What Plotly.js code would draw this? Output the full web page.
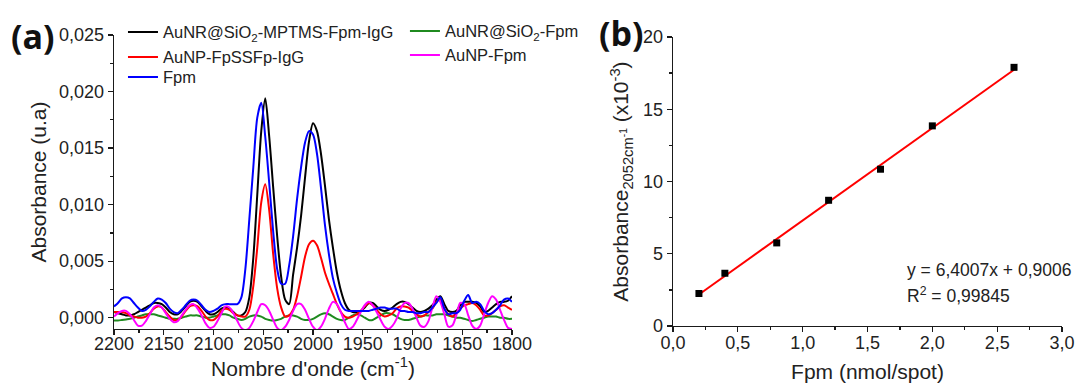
<!DOCTYPE html>
<html>
<head>
<meta charset="utf-8">
<script src="https://cdn.plot.ly/plotly-3.0.1.min.js"></script>
<style>html,body{margin:0;padding:0;background:#fff;}#chart{width:1075px;height:383px;}</style>
</head>
<body>
<div id="chart"></div>
<script>
// ---------- Panel (a) : FTIR spectra ----------
const wavenumber = [
2200,2196,2192,2188,2184,2180,2176,2172,2168,2164,
2160,2156,2152,2148,2144,2140,2136,2132,2128,2124,
2120,2116,2112,2108,2104,2100,2096,2092,2088,2084,
2080,2076,2072,2068,2064,2060,2056,2052,2048,2044,
2040,2036,2032,2028,2024,2020,2016,2012,2008,2004,
2000,1996,1992,1988,1984,1980,1976,1972,1968,1964,
1960,1956,1952,1948,1944,1940,1936,1932,1928,1924,
1920,1916,1912,1908,1904,1900,1896,1892,1888,1884,
1880,1876,1872,1868,1864,1860,1856,1852,1848,1844,
1840,1836,1832,1828,1824,1820,1816,1812,1808,1804,
1800];

const auNR_MPTMS_IgG = [
0.0005,0.0004,0.0003,0.0002,0.0002,0.0003,0.0005,0.0007,0.0009,0.0011,
0.0013,0.0013,0.0012,0.0009,0.0005,0.0003,0.0003,0.0006,0.0010,0.0014,
0.0015,0.0014,0.0010,0.0006,0.0003,0.0003,0.0005,0.0008,0.0009,0.0008,
0.0005,0.0002,0.0002,0.0005,0.0018,0.0053,0.0109,0.0165,0.0194,0.0160,
0.0115,0.0072,0.0036,0.0016,0.0012,0.0038,0.0062,0.0090,0.0124,0.0156,
0.0172,0.0165,0.0145,0.0117,0.0087,0.0062,0.0040,0.0024,0.0013,0.0007,
0.0005,0.0005,0.0006,0.0009,0.0013,0.0013,0.0010,0.0007,0.0006,0.0007,
0.0009,0.0012,0.0014,0.0014,0.0012,0.0009,0.0006,0.0005,0.0006,0.0008,
0.0011,0.0016,0.0019,0.0012,0.0006,0.0005,0.0006,0.0011,0.0014,0.0014,
0.0014,0.0013,0.0010,0.0005,0.0006,0.0009,0.0012,0.0014,0.0014,0.0015,
0.0019];

const auNR_Fpm = [
-0.00025,-0.00025,-0.0002,-0.00015,-0.0001,0.0,0.0001,0.0002,0.0003,0.0003,
0.0003,0.0002,0.0001,0.0,-0.0001,-0.0001,-0.0001,0.0,0.0001,0.0002,
0.0002,0.0002,0.0001,0.0,0.0,0.0001,0.0002,0.0003,0.0003,0.0002,
0.0,-0.0001,-0.0002,-0.0001,0.0001,0.0002,0.0002,0.0001,-0.0001,-0.0002,
-0.00025,-0.0002,-0.0001,0.0001,0.0002,0.0002,0.0001,-0.0001,-0.0002,-0.0002,
-0.0001,0.0001,0.0003,0.0004,0.0003,0.0001,-0.0001,-0.0002,-0.0002,0.0,
0.0002,0.0003,0.0002,0.0,-0.0002,-0.0002,0.0,0.0002,0.0004,0.0004,
0.0003,0.0001,-0.0001,-0.0002,-0.0002,-0.0001,0.0,0.0001,0.0002,0.0002,
0.0002,0.0003,0.0003,0.0003,0.0002,0.0001,0.0,0.0,-0.0001,-0.0002,
-0.0003,-0.0002,-0.0001,0.0,0.0001,0.0001,0.0001,0.0,0.0,-0.0001,
-0.0001];

const auNP_FpSSFp_IgG = [
0.0005,0.0005,0.0005,0.0004,0.0002,0.0001,0.0000,0.0000,0.0001,0.0004,
0.0008,0.0010,0.0009,0.0005,0.0001,-0.0002,-0.0002,0.0001,0.0006,0.0010,
0.0011,0.0010,0.0006,0.0001,-0.0002,-0.0002,0.0001,0.0006,0.0008,0.0007,
0.0004,0.0002,0.0001,0.0001,0.0007,0.0028,0.0062,0.0102,0.0118,0.0095,
0.0056,0.0026,0.0009,0.0001,0.0002,0.0007,0.0019,0.0036,0.0054,0.0065,
0.0068,0.0064,0.0053,0.0040,0.0030,0.0021,0.0012,0.0005,0.0001,0.0000,
0.0001,0.0003,0.0006,0.0010,0.0013,0.0011,0.0007,0.0003,0.0001,0.0002,
0.0004,0.0008,0.0010,0.0010,0.0009,0.0006,0.0003,0.0001,0.0002,0.0005,
0.0008,0.0014,0.0016,0.0008,0.0003,0.0001,0.0004,0.0008,0.0011,0.0012,
0.0013,0.0011,0.0007,0.0002,0.0002,0.0004,0.0007,0.0010,0.0011,0.0009,
0.0007];

const auNP_Fpm = [
0.0001,0.0004,0.0006,0.0006,0.0003,-0.0002,-0.0007,-0.0007,-0.0003,0.0003,
0.0009,0.0011,0.0009,0.0004,-0.0001,-0.0004,-0.0003,0.0002,0.0007,0.0011,
0.0012,0.0008,0.0002,-0.0005,-0.0009,-0.0008,-0.0003,0.0004,0.0010,0.0009,
0.0004,-0.0003,-0.0009,-0.0011,-0.0009,-0.0003,0.0005,0.0012,0.0011,0.0006,
-0.0002,-0.0009,-0.0011,-0.0008,-0.0002,0.0006,0.0012,0.0012,0.0007,-0.0001,
-0.0008,-0.0011,-0.0008,-0.0001,0.0008,0.0014,0.0012,0.0005,-0.0004,-0.0010,
-0.0008,-0.0002,0.0005,0.0011,0.0014,0.0011,0.0005,-0.0002,-0.0008,-0.0010,
-0.0007,-0.0001,0.0008,0.0013,0.0013,0.0008,0.0000,-0.0007,-0.0008,-0.0003,
0.0009,0.0019,0.0014,0.0003,-0.0008,-0.0007,0.0002,0.0013,0.0012,0.0002,
-0.0007,-0.0010,-0.0007,0.0003,0.0013,0.0019,0.0016,0.0007,-0.0002,-0.0009,
-0.0010];

const fpmSpectrum = [
0.0010,0.0013,0.0017,0.0018,0.0017,0.0013,0.0009,0.0006,0.0007,0.0010,
0.0014,0.0017,0.0016,0.0013,0.0008,0.0005,0.0004,0.0007,0.0011,0.0015,
0.0016,0.0015,0.0011,0.0007,0.0005,0.0006,0.0008,0.0011,0.0012,0.0012,
0.0012,0.0012,0.0018,0.0043,0.0087,0.0133,0.0177,0.0190,0.0160,0.0119,
0.0076,0.0043,0.0030,0.0030,0.0046,0.0072,0.0105,0.0133,0.0155,0.0165,
0.0162,0.0145,0.0115,0.0082,0.0056,0.0035,0.0022,0.0012,0.0007,0.0006,
0.0006,0.0006,0.0006,0.0006,0.0006,0.0007,0.0008,0.0009,0.0009,0.0008,
0.0008,0.0008,0.0006,0.0006,0.0005,0.0005,0.0004,0.0004,0.0005,0.0005,
0.0009,0.0013,0.0018,0.0008,0.0003,0.0004,0.0004,0.0007,0.0015,0.0020,
0.0013,0.0014,0.0012,0.0006,0.0003,0.0004,0.0007,0.0011,0.0016,0.0017,
0.0014];

const seriesNames = [
  'AuNR@SiO<sub>2</sub>-MPTMS-Fpm-IgG',
  'AuNR@SiO<sub>2</sub>-Fpm',
  'AuNP-FpSSFp-IgG',
  'AuNP-Fpm',
  'Fpm'
];

// ---------- Panel (b) : calibration ----------
const fpmAmount = [0.2, 0.4, 0.8, 1.2, 1.6, 2.0, 2.63];
const absorbance2052 = [2.25, 3.65, 5.75, 8.7, 10.85, 13.85, 17.9];
const fitSlope = 6.4007;
const fitIntercept = 0.9006;
const fitR2 = '0,99845';

const AX = '#1a1a1a';
const FAM = 'Liberation Sans, Arial, sans-serif';
const tickFont = {family: FAM, size: 18, color: '#222'};
const titleFont = {family: FAM, size: 21, color: '#222'};

function spec(y, name, color, legend) {
  return {x: wavenumber, y: y, name: name, type: 'scatter', mode: 'lines',
    line: {color: color, width: 2, shape: 'spline', smoothing: 0.8},
    xaxis: 'x', yaxis: 'y', legend: legend};
}

const fitX = [Math.min(...fpmAmount), Math.max(...fpmAmount)];
const fitY = fitX.map(v => fitSlope * v + fitIntercept);

const data = [
  spec(auNR_MPTMS_IgG, seriesNames[0], '#000000', 'legend'),
  spec(auNR_Fpm, seriesNames[1], '#1f8a1f', 'legend2'),
  spec(auNP_FpSSFp_IgG, seriesNames[2], '#ff0000', 'legend3'),
  spec(auNP_Fpm, seriesNames[3], '#ff00ff', 'legend4'),
  spec(fpmSpectrum, seriesNames[4], '#0000ff', 'legend5'),
  {x: fitX, y: fitY, type: 'scatter', mode: 'lines', line: {color: '#ff0000', width: 2},
   xaxis: 'x2', yaxis: 'y2', showlegend: false},
  {x: fpmAmount, y: absorbance2052, type: 'scatter', mode: 'markers',
   marker: {symbol: 'square', size: 7, color: '#000'},
   xaxis: 'x2', yaxis: 'y2', showlegend: false}
];

function axisBase() {
  return {showline: true, linecolor: AX, linewidth: 1.3, ticks: 'outside', ticklen: 5,
    tickwidth: 1.3, tickcolor: AX, showgrid: false, zeroline: false, tickfont: tickFont,
    fixedrange: true};
}

function legendAt(x, y) {
  return {x: x, y: y, xanchor: 'left', yanchor: 'top', bgcolor: 'rgba(0,0,0,0)',
    font: {family: FAM, size: 16.5, color: '#222'}, borderwidth: 0};
}

const layout = {
  width: 1075, height: 383,
  margin: {l: 0, r: 0, t: 0, b: 0},
  paper_bgcolor: '#fff', plot_bgcolor: '#fff',
  separators: ', ',
  font: {family: FAM, color: '#222'},
  xaxis: Object.assign(axisBase(), {
    domain: [0.10605, 0.47628], range: [2200, 1800], anchor: 'y',
    tick0: 1800, dtick: 50, ticklabelstandoff: -7,
    minor: {ticks: 'outside', ticklen: 3, dtick: 25, tick0: 1800, tickcolor: AX, tickwidth: 1.3},
    title: {text: "Nombre d'onde (cm<sup>-1</sup>)", font: titleFont, standoff: 7}
  }),
  yaxis: Object.assign(axisBase(), {
    domain: [0.14099, 0.90862], range: [-0.001, 0.025], anchor: 'x',
    tick0: 0, dtick: 0.005, tickformat: '.3f',
    minor: {ticks: 'outside', ticklen: 3, dtick: 0.0025, tick0: 0, tickcolor: AX, tickwidth: 1.3},
    title: {text: 'Absorbance (u.a)', font: titleFont, standoff: 6}
  }),
  xaxis2: Object.assign(axisBase(), {
    domain: [0.62605, 0.98791], range: [0, 3], anchor: 'y2',
    tick0: 0, dtick: 0.5, tickformat: '.1f', ticklabelstandoff: -5,
    minor: {ticks: 'outside', ticklen: 3, dtick: 0.25, tick0: 0, tickcolor: AX, tickwidth: 1.3},
    title: {text: 'Fpm (nmol/spot)', font: titleFont, standoff: 19}
  }),
  yaxis2: Object.assign(axisBase(), {
    domain: [0.14883, 0.90339], range: [0, 20], anchor: 'x2',
    tick0: 0, dtick: 5,
    minor: {ticks: 'outside', ticklen: 3, dtick: 2.5, tick0: 0, tickcolor: AX, tickwidth: 1.3},
    title: {text: 'Absorbance<sub>2052cm<sup>-1</sup></sub> (x10<sup>-3</sup>)', font: titleFont, standoff: 8}
  }),
  showlegend: true,
  legend: legendAt(0.1144, 0.9614),
  legend2: legendAt(0.3767, 0.9640),
  legend3: legendAt(0.1144, 0.8961),
  legend4: legendAt(0.3767, 0.9013),
  legend5: legendAt(0.1144, 0.8439),
  annotations: [
    {text: '<b>(a)</b>', xref: 'paper', yref: 'paper', x: 0.008, y: 0.905, xanchor: 'left', yanchor: 'middle',
     showarrow: false, font: {family: 'Open Sans, DejaVu Sans, sans-serif', size: 34, color: '#111'}},
    {text: '<b>(b)</b>', xref: 'paper', yref: 'paper', x: 0.555, y: 0.915, xanchor: 'left', yanchor: 'middle',
     showarrow: false, font: {family: 'Open Sans, DejaVu Sans, sans-serif', size: 34, color: '#111'}},
    {text: 'y = ' + String(fitSlope).replace('.', ',') + 'x + ' + String(fitIntercept).replace('.', ','),
     xref: 'x2', yref: 'y2', x: 1.79, y: 3.9, xanchor: 'left', yanchor: 'middle', showarrow: false,
     font: {family: FAM, size: 17.5, color: '#222'}},
    {text: 'R<sup>2</sup> = ' + fitR2,
     xref: 'x2', yref: 'y2', x: 1.79, y: 2.15, xanchor: 'left', yanchor: 'middle', showarrow: false,
     font: {family: FAM, size: 17.5, color: '#222'}}
  ]
};

Plotly.newPlot('chart', data, layout, {displayModeBar: false, staticPlot: true});
</script>
</body>
</html>
